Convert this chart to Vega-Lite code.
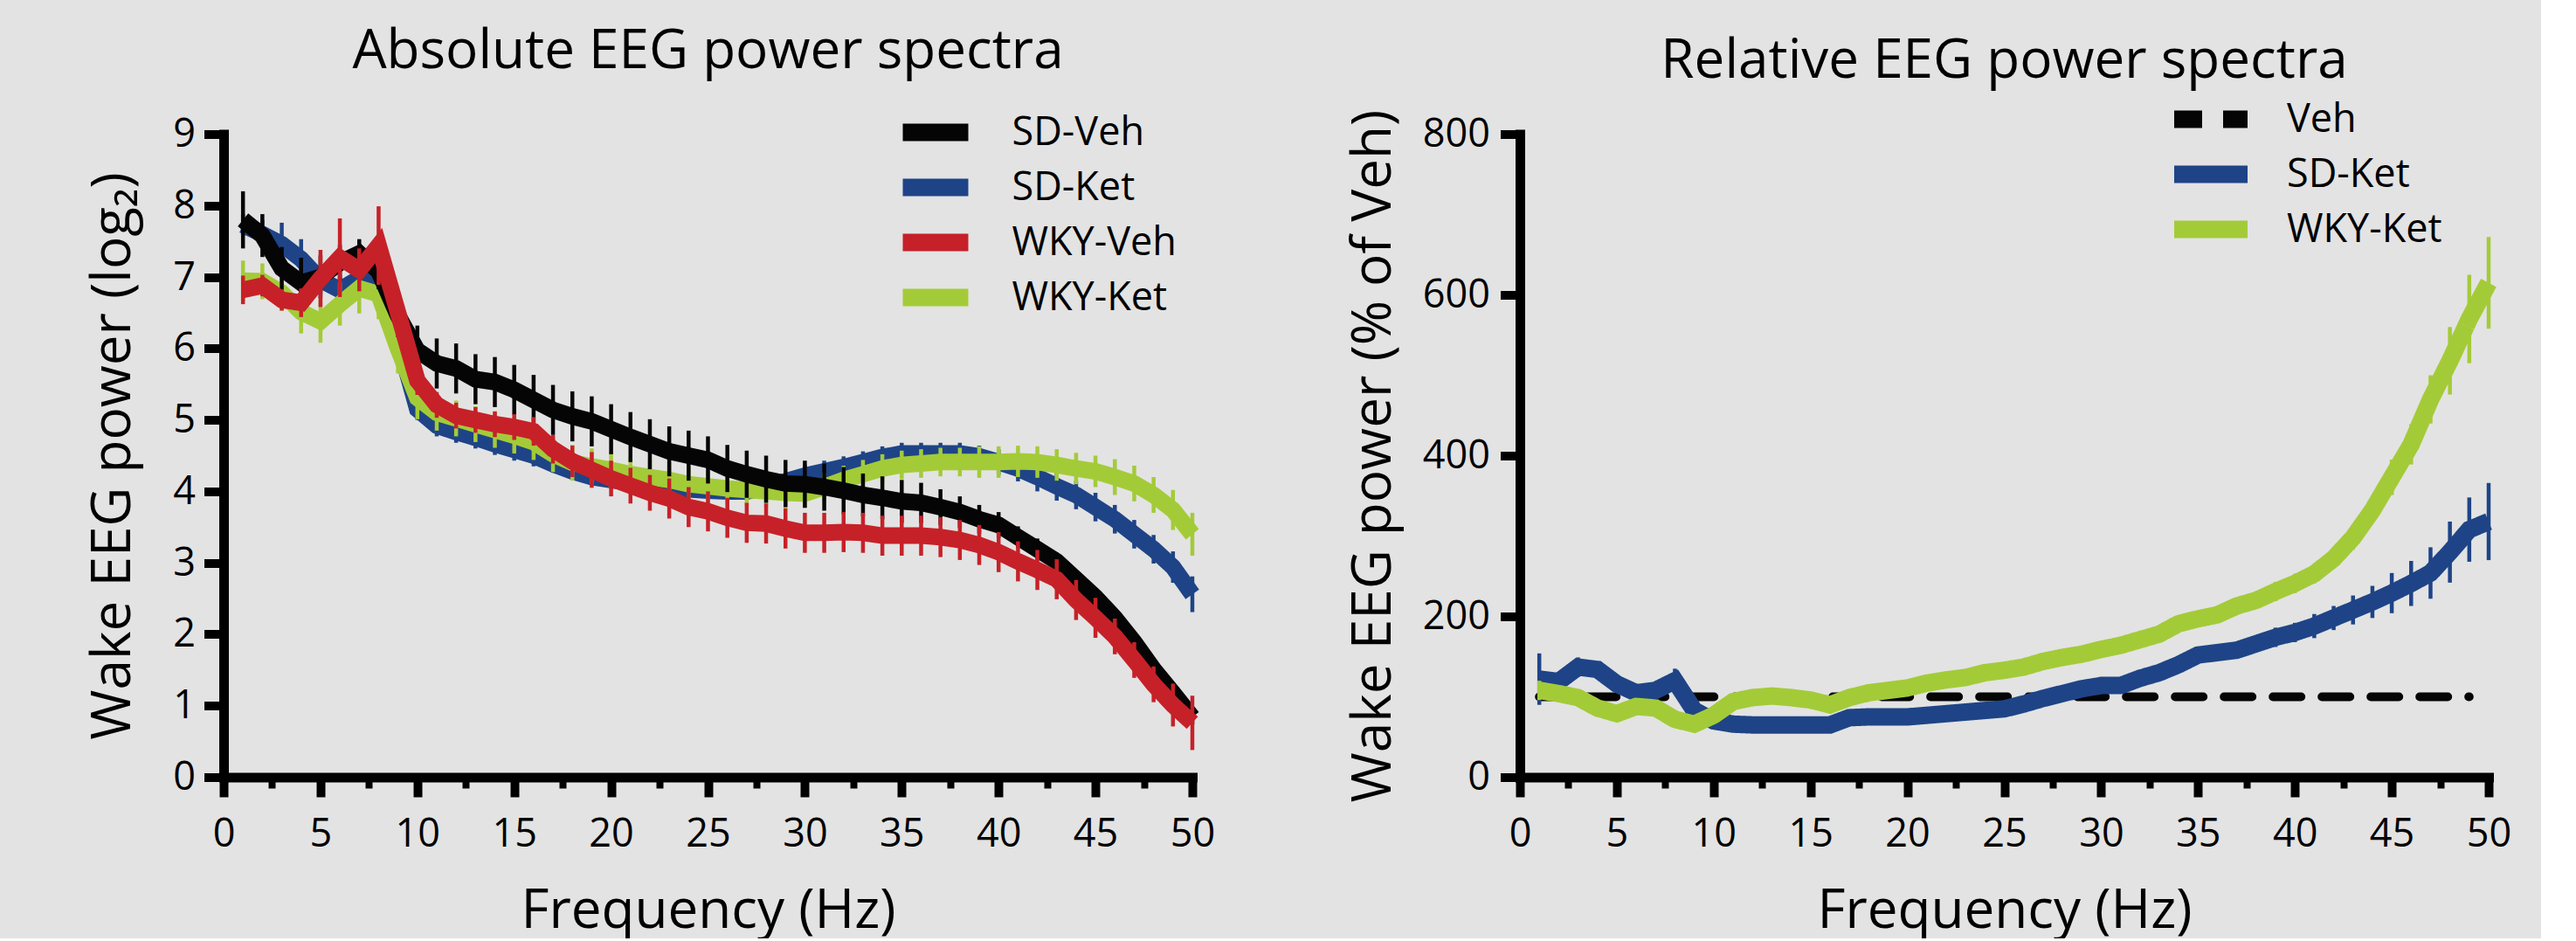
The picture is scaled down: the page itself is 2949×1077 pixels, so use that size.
{
  "$schema": "https://vega.github.io/schema/vega-lite/v6.json",
  "background": "#e3e3e3",
  "padding": {"left": 98, "top": 27.5, "right": 20, "bottom": 0},
  "spacing": 138,
  "resolve": {"scale": {"color": "independent", "strokeDash": "independent"}, "legend": {"color": "independent", "strokeDash": "independent"}},
  "config": {
    "view": {"stroke": null},
    "font": "Open Sans",
    "axis": {"domainColor": "black", "domainWidth": 11, "domainCap": "square", "tickColor": "black", "tickWidth": 10, "tickSize": 22.5, "labelFont": "Open Sans", "labelFontSize": 45, "labelColor": "black", "titleFont": "Open Sans", "titleFontSize": 62, "titleFontWeight": "normal", "titleColor": "black", "grid": false, "labelOverlap": false, "labelFlush": false},
    "title": {"font": "Open Sans", "fontSize": 62, "fontWeight": "normal", "color": "black", "anchor": "middle", "baseline": "alphabetic"},
    "legend": {"labelFont": "Open Sans", "labelFontSize": 45, "labelColor": "black", "padding": 0, "labelLimit": 0}
  },
  "datasets": {
    "abs": [
      {"s":"SD-Veh","hz":1,"v":7.8,"e":0.4},{"s":"SD-Veh","hz":2,"v":7.58,"e":0.3},{"s":"SD-Veh","hz":3,"v":7.12,"e":0.3},{"s":"SD-Veh","hz":4,"v":6.92,"e":0.35},{"s":"SD-Veh","hz":5,"v":7.0,"e":0.3},{"s":"SD-Veh","hz":6,"v":7.2,"e":0.25},{"s":"SD-Veh","hz":7,"v":7.33,"e":0.2},{"s":"SD-Veh","hz":8,"v":7.08,"e":0.25},{"s":"SD-Veh","hz":9,"v":6.46,"e":0.3},{"s":"SD-Veh","hz":10,"v":5.97,"e":0.35},
      {"s":"SD-Veh","hz":11,"v":5.79,"e":0.35},{"s":"SD-Veh","hz":12,"v":5.72,"e":0.35},{"s":"SD-Veh","hz":13,"v":5.57,"e":0.35},{"s":"SD-Veh","hz":14,"v":5.53,"e":0.35},{"s":"SD-Veh","hz":15,"v":5.42,"e":0.35},{"s":"SD-Veh","hz":16,"v":5.28,"e":0.35},{"s":"SD-Veh","hz":17,"v":5.14,"e":0.35},{"s":"SD-Veh","hz":18,"v":5.05,"e":0.35},{"s":"SD-Veh","hz":19,"v":4.98,"e":0.35},{"s":"SD-Veh","hz":20,"v":4.87,"e":0.35},
      {"s":"SD-Veh","hz":21,"v":4.76,"e":0.35},{"s":"SD-Veh","hz":22,"v":4.66,"e":0.35},{"s":"SD-Veh","hz":23,"v":4.56,"e":0.35},{"s":"SD-Veh","hz":24,"v":4.5,"e":0.35},{"s":"SD-Veh","hz":25,"v":4.44,"e":0.33},{"s":"SD-Veh","hz":26,"v":4.32,"e":0.33},{"s":"SD-Veh","hz":27,"v":4.24,"e":0.33},{"s":"SD-Veh","hz":28,"v":4.17,"e":0.33},{"s":"SD-Veh","hz":29,"v":4.11,"e":0.33},{"s":"SD-Veh","hz":30,"v":4.1,"e":0.33},
      {"s":"SD-Veh","hz":31,"v":4.06,"e":0.33},{"s":"SD-Veh","hz":32,"v":4.01,"e":0.33},{"s":"SD-Veh","hz":33,"v":3.95,"e":0.3},{"s":"SD-Veh","hz":34,"v":3.91,"e":0.3},{"s":"SD-Veh","hz":35,"v":3.86,"e":0.3},{"s":"SD-Veh","hz":36,"v":3.84,"e":0.28},{"s":"SD-Veh","hz":37,"v":3.78,"e":0.25},{"s":"SD-Veh","hz":38,"v":3.71,"e":0.22},{"s":"SD-Veh","hz":39,"v":3.61,"e":0.2},{"s":"SD-Veh","hz":40,"v":3.53,"e":0.18},
      {"s":"SD-Veh","hz":41,"v":3.36,"e":0.15},{"s":"SD-Veh","hz":42,"v":3.19,"e":0.15},{"s":"SD-Veh","hz":43,"v":3.02,"e":0.12},{"s":"SD-Veh","hz":44,"v":2.77,"e":0.12},{"s":"SD-Veh","hz":45,"v":2.52,"e":0.12},{"s":"SD-Veh","hz":46,"v":2.23,"e":0.12},{"s":"SD-Veh","hz":47,"v":1.89,"e":0.12},{"s":"SD-Veh","hz":48,"v":1.51,"e":0.12},{"s":"SD-Veh","hz":49,"v":1.18,"e":0.1},{"s":"SD-Veh","hz":50,"v":0.84,"e":0.1},

      {"s":"WKY-Veh","hz":1,"v":6.82,"e":0.2},{"s":"WKY-Veh","hz":2,"v":6.88,"e":0.15},{"s":"WKY-Veh","hz":3,"v":6.68,"e":0.15},{"s":"WKY-Veh","hz":4,"v":6.64,"e":0.2},{"s":"WKY-Veh","hz":5,"v":6.98,"e":0.4},{"s":"WKY-Veh","hz":6,"v":7.27,"e":0.55},{"s":"WKY-Veh","hz":7,"v":7.1,"e":0.3},{"s":"WKY-Veh","hz":8,"v":7.44,"e":0.55},{"s":"WKY-Veh","hz":9,"v":6.5,"e":0.3},{"s":"WKY-Veh","hz":10,"v":5.55,"e":0.2},
      {"s":"WKY-Veh","hz":11,"v":5.21,"e":0.18},{"s":"WKY-Veh","hz":12,"v":5.06,"e":0.18},{"s":"WKY-Veh","hz":13,"v":5.0,"e":0.18},{"s":"WKY-Veh","hz":14,"v":4.94,"e":0.18},{"s":"WKY-Veh","hz":15,"v":4.9,"e":0.18},{"s":"WKY-Veh","hz":16,"v":4.84,"e":0.2},{"s":"WKY-Veh","hz":17,"v":4.59,"e":0.2},{"s":"WKY-Veh","hz":18,"v":4.42,"e":0.22},{"s":"WKY-Veh","hz":19,"v":4.3,"e":0.25},{"s":"WKY-Veh","hz":20,"v":4.18,"e":0.25},
      {"s":"WKY-Veh","hz":21,"v":4.08,"e":0.25},{"s":"WKY-Veh","hz":22,"v":3.98,"e":0.25},{"s":"WKY-Veh","hz":23,"v":3.9,"e":0.28},{"s":"WKY-Veh","hz":24,"v":3.78,"e":0.28},{"s":"WKY-Veh","hz":25,"v":3.72,"e":0.28},{"s":"WKY-Veh","hz":26,"v":3.63,"e":0.28},{"s":"WKY-Veh","hz":27,"v":3.56,"e":0.28},{"s":"WKY-Veh","hz":28,"v":3.55,"e":0.28},{"s":"WKY-Veh","hz":29,"v":3.48,"e":0.28},{"s":"WKY-Veh","hz":30,"v":3.42,"e":0.28},
      {"s":"WKY-Veh","hz":31,"v":3.42,"e":0.28},{"s":"WKY-Veh","hz":32,"v":3.43,"e":0.28},{"s":"WKY-Veh","hz":33,"v":3.42,"e":0.28},{"s":"WKY-Veh","hz":34,"v":3.38,"e":0.28},{"s":"WKY-Veh","hz":35,"v":3.38,"e":0.28},{"s":"WKY-Veh","hz":36,"v":3.38,"e":0.28},{"s":"WKY-Veh","hz":37,"v":3.36,"e":0.28},{"s":"WKY-Veh","hz":38,"v":3.32,"e":0.28},{"s":"WKY-Veh","hz":39,"v":3.25,"e":0.28},{"s":"WKY-Veh","hz":40,"v":3.15,"e":0.28},
      {"s":"WKY-Veh","hz":41,"v":3.02,"e":0.28},{"s":"WKY-Veh","hz":42,"v":2.9,"e":0.28},{"s":"WKY-Veh","hz":43,"v":2.77,"e":0.28},{"s":"WKY-Veh","hz":44,"v":2.48,"e":0.28},{"s":"WKY-Veh","hz":45,"v":2.23,"e":0.28},{"s":"WKY-Veh","hz":46,"v":1.97,"e":0.25},{"s":"WKY-Veh","hz":47,"v":1.64,"e":0.25},{"s":"WKY-Veh","hz":48,"v":1.3,"e":0.25},{"s":"WKY-Veh","hz":49,"v":1.01,"e":0.3},{"s":"WKY-Veh","hz":50,"v":0.76,"e":0.38},

      {"s":"WKY-Ket","hz":1,"v":6.95,"e":0.28},{"s":"WKY-Ket","hz":2,"v":6.94,"e":0.25},{"s":"WKY-Ket","hz":3,"v":6.78,"e":0.25},{"s":"WKY-Ket","hz":4,"v":6.51,"e":0.3},{"s":"WKY-Ket","hz":5,"v":6.38,"e":0.3},{"s":"WKY-Ket","hz":6,"v":6.62,"e":0.3},{"s":"WKY-Ket","hz":7,"v":6.84,"e":0.35},{"s":"WKY-Ket","hz":8,"v":6.76,"e":0.35},{"s":"WKY-Ket","hz":9,"v":6.0,"e":0.35},{"s":"WKY-Ket","hz":10,"v":5.31,"e":0.3},
      {"s":"WKY-Ket","hz":11,"v":5.1,"e":0.25},{"s":"WKY-Ket","hz":12,"v":5.02,"e":0.25},{"s":"WKY-Ket","hz":13,"v":4.94,"e":0.25},{"s":"WKY-Ket","hz":14,"v":4.86,"e":0.25},{"s":"WKY-Ket","hz":15,"v":4.78,"e":0.25},{"s":"WKY-Ket","hz":16,"v":4.69,"e":0.25},{"s":"WKY-Ket","hz":17,"v":4.52,"e":0.25},{"s":"WKY-Ket","hz":18,"v":4.4,"e":0.25},{"s":"WKY-Ket","hz":19,"v":4.35,"e":0.25},{"s":"WKY-Ket","hz":20,"v":4.3,"e":0.25},
      {"s":"WKY-Ket","hz":21,"v":4.24,"e":0.25},{"s":"WKY-Ket","hz":22,"v":4.2,"e":0.25},{"s":"WKY-Ket","hz":23,"v":4.16,"e":0.25},{"s":"WKY-Ket","hz":24,"v":4.1,"e":0.25},{"s":"WKY-Ket","hz":25,"v":4.07,"e":0.22},{"s":"WKY-Ket","hz":26,"v":4.04,"e":0.22},{"s":"WKY-Ket","hz":27,"v":4.02,"e":0.22},{"s":"WKY-Ket","hz":28,"v":4.0,"e":0.22},{"s":"WKY-Ket","hz":29,"v":3.98,"e":0.22},{"s":"WKY-Ket","hz":30,"v":3.97,"e":0.2},
      {"s":"WKY-Ket","hz":31,"v":4.06,"e":0.2},{"s":"WKY-Ket","hz":32,"v":4.16,"e":0.2},{"s":"WKY-Ket","hz":33,"v":4.24,"e":0.2},{"s":"WKY-Ket","hz":34,"v":4.32,"e":0.2},{"s":"WKY-Ket","hz":35,"v":4.37,"e":0.2},{"s":"WKY-Ket","hz":36,"v":4.39,"e":0.2},{"s":"WKY-Ket","hz":37,"v":4.41,"e":0.2},{"s":"WKY-Ket","hz":38,"v":4.41,"e":0.2},{"s":"WKY-Ket","hz":39,"v":4.41,"e":0.22},{"s":"WKY-Ket","hz":40,"v":4.41,"e":0.22},
      {"s":"WKY-Ket","hz":41,"v":4.42,"e":0.22},{"s":"WKY-Ket","hz":42,"v":4.41,"e":0.22},{"s":"WKY-Ket","hz":43,"v":4.37,"e":0.22},{"s":"WKY-Ket","hz":44,"v":4.32,"e":0.22},{"s":"WKY-Ket","hz":45,"v":4.28,"e":0.22},{"s":"WKY-Ket","hz":46,"v":4.2,"e":0.25},{"s":"WKY-Ket","hz":47,"v":4.11,"e":0.25},{"s":"WKY-Ket","hz":48,"v":3.95,"e":0.25},{"s":"WKY-Ket","hz":49,"v":3.74,"e":0.28},{"s":"WKY-Ket","hz":50,"v":3.4,"e":0.3},

      {"s":"SD-Ket","hz":1,"v":7.73,"e":0.15},{"s":"SD-Ket","hz":2,"v":7.6,"e":0.2},{"s":"SD-Ket","hz":3,"v":7.46,"e":0.3},{"s":"SD-Ket","hz":4,"v":7.25,"e":0.28},{"s":"SD-Ket","hz":5,"v":6.96,"e":0.2},{"s":"SD-Ket","hz":6,"v":6.82,"e":0.2},{"s":"SD-Ket","hz":7,"v":6.98,"e":0.2},{"s":"SD-Ket","hz":8,"v":7.02,"e":0.2},{"s":"SD-Ket","hz":9,"v":6.12,"e":0.2},{"s":"SD-Ket","hz":10,"v":5.15,"e":0.15},
      {"s":"SD-Ket","hz":11,"v":4.92,"e":0.15},{"s":"SD-Ket","hz":12,"v":4.83,"e":0.15},{"s":"SD-Ket","hz":13,"v":4.75,"e":0.15},{"s":"SD-Ket","hz":14,"v":4.66,"e":0.15},{"s":"SD-Ket","hz":15,"v":4.58,"e":0.15},{"s":"SD-Ket","hz":16,"v":4.5,"e":0.15},{"s":"SD-Ket","hz":17,"v":4.38,"e":0.12},{"s":"SD-Ket","hz":18,"v":4.28,"e":0.12},{"s":"SD-Ket","hz":19,"v":4.2,"e":0.12},{"s":"SD-Ket","hz":20,"v":4.16,"e":0.12},
      {"s":"SD-Ket","hz":21,"v":4.12,"e":0.12},{"s":"SD-Ket","hz":22,"v":4.08,"e":0.12},{"s":"SD-Ket","hz":23,"v":4.06,"e":0.12},{"s":"SD-Ket","hz":24,"v":4.03,"e":0.12},{"s":"SD-Ket","hz":25,"v":4.01,"e":0.12},{"s":"SD-Ket","hz":26,"v":4.0,"e":0.12},{"s":"SD-Ket","hz":27,"v":4.0,"e":0.12},{"s":"SD-Ket","hz":28,"v":4.06,"e":0.12},{"s":"SD-Ket","hz":29,"v":4.14,"e":0.12},{"s":"SD-Ket","hz":30,"v":4.22,"e":0.15},
      {"s":"SD-Ket","hz":31,"v":4.28,"e":0.15},{"s":"SD-Ket","hz":32,"v":4.34,"e":0.15},{"s":"SD-Ket","hz":33,"v":4.41,"e":0.15},{"s":"SD-Ket","hz":34,"v":4.48,"e":0.15},{"s":"SD-Ket","hz":35,"v":4.53,"e":0.15},{"s":"SD-Ket","hz":36,"v":4.53,"e":0.15},{"s":"SD-Ket","hz":37,"v":4.53,"e":0.15},{"s":"SD-Ket","hz":38,"v":4.53,"e":0.15},{"s":"SD-Ket","hz":39,"v":4.49,"e":0.15},{"s":"SD-Ket","hz":40,"v":4.41,"e":0.18},
      {"s":"SD-Ket","hz":41,"v":4.32,"e":0.18},{"s":"SD-Ket","hz":42,"v":4.2,"e":0.2},{"s":"SD-Ket","hz":43,"v":4.07,"e":0.2},{"s":"SD-Ket","hz":44,"v":3.95,"e":0.2},{"s":"SD-Ket","hz":45,"v":3.78,"e":0.2},{"s":"SD-Ket","hz":46,"v":3.61,"e":0.2},{"s":"SD-Ket","hz":47,"v":3.4,"e":0.2},{"s":"SD-Ket","hz":48,"v":3.19,"e":0.2},{"s":"SD-Ket","hz":49,"v":2.94,"e":0.22},{"s":"SD-Ket","hz":50,"v":2.56,"e":0.25}
    ],
    "rel": [
      {"s":"Veh","hz":1,"v":100},{"s":"Veh","hz":2,"v":100},{"s":"Veh","hz":3,"v":100},{"s":"Veh","hz":4,"v":100},{"s":"Veh","hz":5,"v":100},{"s":"Veh","hz":6,"v":100},{"s":"Veh","hz":7,"v":100},{"s":"Veh","hz":8,"v":100},{"s":"Veh","hz":9,"v":100},{"s":"Veh","hz":10,"v":100},
      {"s":"Veh","hz":11,"v":100},{"s":"Veh","hz":12,"v":100},{"s":"Veh","hz":13,"v":100},{"s":"Veh","hz":14,"v":100},{"s":"Veh","hz":15,"v":100},{"s":"Veh","hz":16,"v":100},{"s":"Veh","hz":17,"v":100},{"s":"Veh","hz":18,"v":100},{"s":"Veh","hz":19,"v":100},{"s":"Veh","hz":20,"v":100},
      {"s":"Veh","hz":21,"v":100},{"s":"Veh","hz":22,"v":100},{"s":"Veh","hz":23,"v":100},{"s":"Veh","hz":24,"v":100},{"s":"Veh","hz":25,"v":100},{"s":"Veh","hz":26,"v":100},{"s":"Veh","hz":27,"v":100},{"s":"Veh","hz":28,"v":100},{"s":"Veh","hz":29,"v":100},{"s":"Veh","hz":30,"v":100},
      {"s":"Veh","hz":31,"v":100},{"s":"Veh","hz":32,"v":100},{"s":"Veh","hz":33,"v":100},{"s":"Veh","hz":34,"v":100},{"s":"Veh","hz":35,"v":100},{"s":"Veh","hz":36,"v":100},{"s":"Veh","hz":37,"v":100},{"s":"Veh","hz":38,"v":100},{"s":"Veh","hz":39,"v":100},{"s":"Veh","hz":40,"v":100},
      {"s":"Veh","hz":41,"v":100},{"s":"Veh","hz":42,"v":100},{"s":"Veh","hz":43,"v":100},{"s":"Veh","hz":44,"v":100},{"s":"Veh","hz":45,"v":100},{"s":"Veh","hz":46,"v":100},{"s":"Veh","hz":47,"v":100},{"s":"Veh","hz":48,"v":100},{"s":"Veh","hz":49,"v":100},

      {"s":"SD-Ket","hz":1,"v":122,"e":32},{"s":"SD-Ket","hz":2,"v":119,"e":10},{"s":"SD-Ket","hz":3,"v":137,"e":12},{"s":"SD-Ket","hz":4,"v":134,"e":10},{"s":"SD-Ket","hz":5,"v":116,"e":8},{"s":"SD-Ket","hz":6,"v":105,"e":8},{"s":"SD-Ket","hz":7,"v":108,"e":8},{"s":"SD-Ket","hz":8,"v":120,"e":15},{"s":"SD-Ket","hz":9,"v":83,"e":8},{"s":"SD-Ket","hz":10,"v":70,"e":5},
      {"s":"SD-Ket","hz":11,"v":66,"e":5},{"s":"SD-Ket","hz":12,"v":65,"e":5},{"s":"SD-Ket","hz":13,"v":65,"e":5},{"s":"SD-Ket","hz":14,"v":65,"e":5},{"s":"SD-Ket","hz":15,"v":65,"e":5},{"s":"SD-Ket","hz":16,"v":65,"e":5},{"s":"SD-Ket","hz":17,"v":74,"e":5},{"s":"SD-Ket","hz":18,"v":75,"e":5},{"s":"SD-Ket","hz":19,"v":75,"e":5},{"s":"SD-Ket","hz":20,"v":75,"e":5},
      {"s":"SD-Ket","hz":21,"v":77,"e":5},{"s":"SD-Ket","hz":22,"v":79,"e":5},{"s":"SD-Ket","hz":23,"v":81,"e":5},{"s":"SD-Ket","hz":24,"v":83,"e":5},{"s":"SD-Ket","hz":25,"v":85,"e":5},{"s":"SD-Ket","hz":26,"v":91,"e":5},{"s":"SD-Ket","hz":27,"v":98,"e":5},{"s":"SD-Ket","hz":28,"v":104,"e":5},{"s":"SD-Ket","hz":29,"v":110,"e":5},{"s":"SD-Ket","hz":30,"v":114,"e":5},
      {"s":"SD-Ket","hz":31,"v":114,"e":5},{"s":"SD-Ket","hz":32,"v":123,"e":5},{"s":"SD-Ket","hz":33,"v":130,"e":5},{"s":"SD-Ket","hz":34,"v":140,"e":5},{"s":"SD-Ket","hz":35,"v":152,"e":5},{"s":"SD-Ket","hz":36,"v":155,"e":8},{"s":"SD-Ket","hz":37,"v":158,"e":8},{"s":"SD-Ket","hz":38,"v":166,"e":10},{"s":"SD-Ket","hz":39,"v":174,"e":12},{"s":"SD-Ket","hz":40,"v":180,"e":12},
      {"s":"SD-Ket","hz":41,"v":188,"e":15},{"s":"SD-Ket","hz":42,"v":198,"e":15},{"s":"SD-Ket","hz":43,"v":208,"e":18},{"s":"SD-Ket","hz":44,"v":218,"e":20},{"s":"SD-Ket","hz":45,"v":229,"e":25},{"s":"SD-Ket","hz":46,"v":241,"e":28},{"s":"SD-Ket","hz":47,"v":254,"e":32},{"s":"SD-Ket","hz":48,"v":280,"e":38},{"s":"SD-Ket","hz":49,"v":308,"e":40},{"s":"SD-Ket","hz":50,"v":318,"e":48},

      {"s":"WKY-Ket","hz":1,"v":108,"e":12},{"s":"WKY-Ket","hz":2,"v":104,"e":10},{"s":"WKY-Ket","hz":3,"v":99,"e":8},{"s":"WKY-Ket","hz":4,"v":86,"e":8},{"s":"WKY-Ket","hz":5,"v":79,"e":8},{"s":"WKY-Ket","hz":6,"v":88,"e":8},{"s":"WKY-Ket","hz":7,"v":86,"e":8},{"s":"WKY-Ket","hz":8,"v":72,"e":8},{"s":"WKY-Ket","hz":9,"v":66,"e":8},{"s":"WKY-Ket","hz":10,"v":77,"e":5},
      {"s":"WKY-Ket","hz":11,"v":94,"e":5},{"s":"WKY-Ket","hz":12,"v":99,"e":5},{"s":"WKY-Ket","hz":13,"v":101,"e":5},{"s":"WKY-Ket","hz":14,"v":99,"e":5},{"s":"WKY-Ket","hz":15,"v":96,"e":5},{"s":"WKY-Ket","hz":16,"v":90,"e":5},{"s":"WKY-Ket","hz":17,"v":99,"e":5},{"s":"WKY-Ket","hz":18,"v":105,"e":5},{"s":"WKY-Ket","hz":19,"v":108,"e":5},{"s":"WKY-Ket","hz":20,"v":111,"e":5},
      {"s":"WKY-Ket","hz":21,"v":117,"e":5},{"s":"WKY-Ket","hz":22,"v":121,"e":5},{"s":"WKY-Ket","hz":23,"v":124,"e":5},{"s":"WKY-Ket","hz":24,"v":130,"e":5},{"s":"WKY-Ket","hz":25,"v":133,"e":5},{"s":"WKY-Ket","hz":26,"v":137,"e":8},{"s":"WKY-Ket","hz":27,"v":144,"e":8},{"s":"WKY-Ket","hz":28,"v":149,"e":8},{"s":"WKY-Ket","hz":29,"v":153,"e":8},{"s":"WKY-Ket","hz":30,"v":159,"e":8},
      {"s":"WKY-Ket","hz":31,"v":164,"e":8},{"s":"WKY-Ket","hz":32,"v":171,"e":8},{"s":"WKY-Ket","hz":33,"v":178,"e":8},{"s":"WKY-Ket","hz":34,"v":191,"e":8},{"s":"WKY-Ket","hz":35,"v":197,"e":8},{"s":"WKY-Ket","hz":36,"v":202,"e":8},{"s":"WKY-Ket","hz":37,"v":213,"e":10},{"s":"WKY-Ket","hz":38,"v":220,"e":10},{"s":"WKY-Ket","hz":39,"v":231,"e":12},{"s":"WKY-Ket","hz":40,"v":241,"e":12},
      {"s":"WKY-Ket","hz":41,"v":253,"e":12},{"s":"WKY-Ket","hz":42,"v":272,"e":12},{"s":"WKY-Ket","hz":43,"v":298,"e":15},{"s":"WKY-Ket","hz":44,"v":332,"e":15},{"s":"WKY-Ket","hz":45,"v":373,"e":22},{"s":"WKY-Ket","hz":46,"v":414,"e":25},{"s":"WKY-Ket","hz":47,"v":470,"e":30},{"s":"WKY-Ket","hz":48,"v":518,"e":42},{"s":"WKY-Ket","hz":49,"v":570,"e":55},{"s":"WKY-Ket","hz":50,"v":615,"e":57}
    ]
  },
  "hconcat": [
    {
      "width": 1109,
      "height": 736,
      "data": {"name": "abs"},
      "title": {"text": "Absolute EEG power spectra", "offset": 38.5},
      "encoding": {
        "x": {"field": "hz", "type": "quantitative", "scale": {"domain": [0, 50], "nice": false},
              "axis": {"title": "Frequency (Hz)", "values": [0,2.5,5,7.5,10,12.5,15,17.5,20,22.5,25,27.5,30,32.5,35,37.5,40,42.5,45,47.5,50],
                       "labelExpr": "datum.value % 5 === 0 ? datum.label : ''",
                       "tickSize": {"condition": {"test": "datum.value % 5 === 0", "value": 22.5}, "value": 12.5},
                       "tickWidth": {"condition": {"test": "datum.value % 5 === 0", "value": 10}, "value": 8},
                       "labelPadding": 20, "titlePadding": 35}},
        "y": {"field": "v", "type": "quantitative", "scale": {"domain": [0, 9], "nice": false},
              "axis": {"title": "Wake EEG power (log₂)", "values": [0,1,2,3,4,5,6,7,8,9], "labelPadding": 10, "titlePadding": 36}},
        "color": {"field": "s", "type": "nominal",
                  "scale": {"domain": ["SD-Veh", "SD-Ket", "WKY-Veh", "WKY-Ket"], "range": ["#050505", "#1e4487", "#c62128", "#a3cb38"]},
                  "legend": {"title": null, "orient": "none", "legendX": 792.5, "legendY": -24.5, "symbolType": "M-3.75,0H3.75", "symbolSize": 400, "symbolStrokeWidth": 20, "labelOffset": 65, "rowPadding": -28}}
      },
      "layer": [
        {"transform": [{"filter": {"field": "s", "equal": "SD-Ket"}}], "mark": {"type": "errorbar", "thickness": 4.5}, "encoding": {"yError": {"field": "e"}}},
        {"transform": [{"filter": {"field": "s", "equal": "SD-Ket"}}], "mark": {"type": "line", "strokeWidth": 19}},
        {"transform": [{"filter": {"field": "s", "equal": "WKY-Ket"}}], "mark": {"type": "errorbar", "thickness": 4.5}, "encoding": {"yError": {"field": "e"}}},
        {"transform": [{"filter": {"field": "s", "equal": "WKY-Ket"}}], "mark": {"type": "line", "strokeWidth": 19}},
        {"transform": [{"filter": {"field": "s", "equal": "SD-Veh"}}], "mark": {"type": "errorbar", "thickness": 4.5}, "encoding": {"yError": {"field": "e"}}},
        {"transform": [{"filter": {"field": "s", "equal": "SD-Veh"}}], "mark": {"type": "line", "strokeWidth": 19}},
        {"transform": [{"filter": {"field": "s", "equal": "WKY-Veh"}}], "mark": {"type": "errorbar", "thickness": 4.5}, "encoding": {"yError": {"field": "e"}}},
        {"transform": [{"filter": {"field": "s", "equal": "WKY-Veh"}}], "mark": {"type": "line", "strokeWidth": 19}}
      ]
    },
    {
      "width": 1109,
      "height": 736,
      "data": {"name": "rel"},
      "title": {"text": "Relative EEG power spectra", "offset": 12},
      "encoding": {
        "x": {"field": "hz", "type": "quantitative", "scale": {"domain": [0, 50], "nice": false},
              "axis": {"title": "Frequency (Hz)", "values": [0,2.5,5,7.5,10,12.5,15,17.5,20,22.5,25,27.5,30,32.5,35,37.5,40,42.5,45,47.5,50],
                       "labelExpr": "datum.value % 5 === 0 ? datum.label : ''",
                       "tickSize": {"condition": {"test": "datum.value % 5 === 0", "value": 22.5}, "value": 12.5},
                       "tickWidth": {"condition": {"test": "datum.value % 5 === 0", "value": 10}, "value": 8},
                       "labelPadding": 20, "titlePadding": 35}},
        "y": {"field": "v", "type": "quantitative", "scale": {"domain": [0, 800], "nice": false},
              "axis": {"title": "Wake EEG power (% of Veh)", "values": [0,200,400,600,800], "labelPadding": 12, "titlePadding": 24}},
        "color": {"field": "s", "type": "nominal",
                  "scale": {"domain": ["Veh", "SD-Ket", "WKY-Ket"], "range": ["#050505", "#1e4487", "#a3cb38"]},
                  "legend": {"title": null, "orient": "none", "legendX": 768.5, "legendY": -39.5, "symbolType": "M-4.2,0H4.2", "symbolSize": 400, "symbolStrokeWidth": 20, "labelOffset": 64.5, "rowPadding": -21}}
      },
      "layer": [
        {"transform": [{"filter": {"field": "s", "equal": "Veh"}}], "mark": {"type": "line", "strokeCap": "round", "strokeWidth": 10},
         "encoding": {"strokeDash": {"field": "s", "type": "nominal", "scale": {"domain": ["Veh", "SD-Ket", "WKY-Ket"], "range": [[32, 24], [1, 0], [1, 0]]}, "legend": {"title": null, "orient": "none", "legendX": 768.5, "legendY": -39.5, "symbolType": "M-4.2,0H4.2", "symbolSize": 400, "symbolStrokeWidth": 20, "labelOffset": 64.5, "rowPadding": -21}}}},
        {"transform": [{"filter": {"field": "s", "equal": "SD-Ket"}}], "mark": {"type": "errorbar", "thickness": 4.5}, "encoding": {"yError": {"field": "e"}}},
        {"transform": [{"filter": {"field": "s", "equal": "SD-Ket"}}], "mark": {"type": "line", "strokeWidth": 20},
         "encoding": {"strokeDash": {"field": "s", "type": "nominal"}}},
        {"transform": [{"filter": {"field": "s", "equal": "WKY-Ket"}}], "mark": {"type": "errorbar", "thickness": 4.5}, "encoding": {"yError": {"field": "e"}}},
        {"transform": [{"filter": {"field": "s", "equal": "WKY-Ket"}}], "mark": {"type": "line", "strokeWidth": 20},
         "encoding": {"strokeDash": {"field": "s", "type": "nominal"}}}
      ]
    }
  ]
}
